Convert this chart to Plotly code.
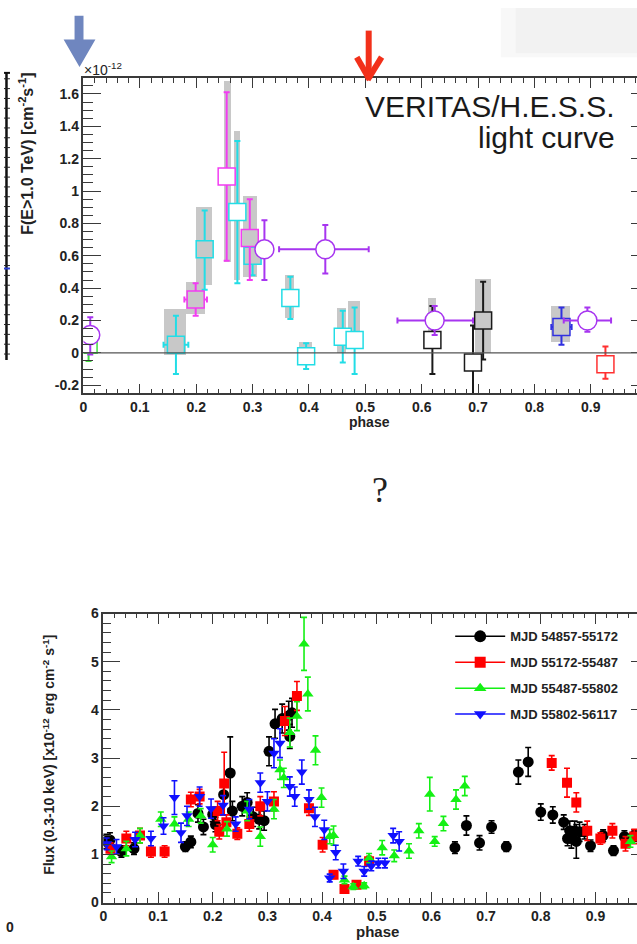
import plotly.graph_objects as go

W, H = 637, 944


def px(x):
    return x / W


def py(y):
    return 1 - y / H


# ---------------- top panel : VERITAS/H.E.S.S. light curve (x1e-12 cm^-2 s^-1)
green_phase = [0.009]
green_flux = [0.05]
green_up = [0.10]
green_dn = [0.10]

purple_phase = [0.012, 0.321, 0.429, 0.623, 0.894]
purple_flux = [0.11, 0.64, 0.64, 0.20, 0.20]
purple_up = [0.11, 0.18, 0.15, 0.09, 0.08]
purple_dn = [0.12, 0.19, 0.15, 0.09, 0.07]
purple_xl = [0.0, 0.0, 0.082, 0.066, 0.042]
purple_xr = [0.0, 0.0, 0.077, 0.068, 0.042]

cyan_phase = [0.164, 0.215, 0.273, 0.300, 0.367, 0.395, 0.460, 0.481]
cyan_flux = [0.05, 0.64, 0.87, 0.60, 0.34, -0.02, 0.10, 0.08]
cyan_up = [0.18, 0.24, 0.44, 0.12, 0.13, 0.08, 0.16, 0.20]
cyan_dn = [0.18, 0.25, 0.44, 0.12, 0.13, 0.08, 0.16, 0.21]
cyan_xe = [0.022, 0, 0, 0, 0, 0, 0, 0]

magenta_phase = [0.199, 0.254, 0.295]
magenta_flux = [0.33, 1.09, 0.71]
magenta_up = [0.10, 0.52, 0.24]
magenta_dn = [0.10, 0.52, 0.26]
magenta_xe = [0.02, 0, 0]

black_phase = [0.619, 0.691, 0.709]
black_flux = [0.08, -0.06, 0.20]
black_up = [0.21, 0.23, 0.24]
black_dn = [0.21, 0.30, 0.24]

blue_phase = [0.848]
blue_flux = [0.16]
blue_up = [0.12]
blue_dn = [0.11]
blue_xe = [0.018]

red_phase = [0.926]
red_flux = [-0.07]
red_up = [0.11]
red_dn = [0.09]

# systematic-error boxes (phase range, flux range)
sys_phase_lo = [0.143, 0.182, 0.200, 0.250, 0.268, 0.284, 0.358, 0.384, 0.451, 0.471, 0.612, 0.695, 0.831]
sys_phase_hi = [0.183, 0.217, 0.229, 0.262, 0.279, 0.309, 0.374, 0.407, 0.466, 0.492, 0.626, 0.723, 0.864]
sys_flux_lo = [-0.01, 0.24, 0.42, 0.56, 0.45, 0.47, 0.22, 0.00, 0.00, 0.03, 0.03, 0.00, 0.07]
sys_flux_hi = [0.27, 0.44, 0.90, 1.68, 1.37, 0.97, 0.48, 0.07, 0.28, 0.32, 0.34, 0.46, 0.29]

top_x_ticks = [0, 0.1, 0.2, 0.3, 0.4, 0.5, 0.6, 0.7, 0.8, 0.9]
top_x_labels = ["0", "0.1", "0.2", "0.3", "0.4", "0.5", "0.6", "0.7", "0.8", "0.9"]
top_y_ticks = [-0.2, 0, 0.2, 0.4, 0.6, 0.8, 1.0, 1.2, 1.4, 1.6]
top_y_labels = ["-0.2", "0", "0.2", "0.4", "0.6", "0.8", "1", "1.2", "1.4", "1.6"]

# ---------------- bottom panel : X-ray flux 0.3-10 keV (x1e-12 erg cm^-2 s^-1)
k_phase = [0.005, 0.012, 0.033, 0.056, 0.150, 0.160, 0.173, 0.183, 0.200, 0.205, 0.220, 0.232,
           0.236, 0.254, 0.263, 0.274, 0.285, 0.294, 0.303, 0.314, 0.327, 0.339, 0.345, 0.341,
           0.643, 0.664, 0.688, 0.710, 0.737, 0.759, 0.777, 0.800, 0.822, 0.842, 0.849, 0.853,
           0.856, 0.862, 0.865, 0.871, 0.880, 0.891, 0.914, 0.933, 0.953, 0.971]
k_flux = [1.27, 1.30, 1.06, 1.12, 1.16, 1.26, 1.85, 1.57, 1.83, 1.62, 2.24, 2.69,
          1.90, 2.00, 2.08, 1.78, 1.73, 1.70, 3.14, 3.71, 3.82, 3.88, 3.94, 3.45,
          1.14, 1.60, 1.24, 1.57, 1.16, 2.71, 2.92, 1.88, 1.82, 1.67, 1.33, 1.49,
          1.33, 1.49, 1.27, 1.47, 1.47, 1.18, 1.39, 1.08, 1.37, 1.39]
k_err = [0.15, 0.15, 0.12, 0.12, 0.10, 0.12, 0.18, 0.16, 0.15, 0.15, 0.20, 0.75,
         0.20, 0.20, 0.20, 0.20, 0.20, 0.20, 0.30, 0.30, 0.30, 0.30, 0.30, 0.25,
         0.12, 0.20, 0.15, 0.13, 0.10, 0.25, 0.30, 0.17, 0.17, 0.15, 0.15, 0.20,
         0.20, 0.20, 0.35, 0.20, 0.15, 0.12, 0.12, 0.10, 0.12, 0.12]

r_phase = [0.013, 0.042, 0.067, 0.087, 0.112, 0.160, 0.176, 0.209, 0.221, 0.212, 0.225, 0.245,
           0.267, 0.287, 0.312, 0.332, 0.354, 0.376, 0.401, 0.421, 0.441, 0.463, 0.486,
           0.820, 0.848, 0.865, 0.885, 0.909, 0.931, 0.955, 0.971]
r_flux = [1.12, 1.33, 1.39, 1.06, 1.06, 2.14, 2.20, 1.90, 2.47, 1.47, 1.67, 1.43,
          1.63, 2.00, 2.10, 3.77, 4.29, 1.96, 1.20, 0.58, 0.28, 0.37, 0.86,
          2.90, 2.49, 2.08, 1.49, 1.33, 1.49, 1.22, 1.37]
r_err = [0.12, 0.15, 0.15, 0.12, 0.12, 0.15, 0.15, 0.20, 0.65, 0.15, 0.15, 0.12,
         0.15, 0.20, 0.20, 0.30, 0.30, 0.15, 0.15, 0.08, 0.06, 0.06, 0.10,
         0.15, 0.30, 0.20, 0.20, 0.12, 0.15, 0.15, 0.15]

g_phase = [0.015, 0.042, 0.067, 0.105, 0.130, 0.156, 0.178, 0.200, 0.226, 0.263, 0.287, 0.312,
           0.323, 0.330, 0.341, 0.354, 0.367, 0.374, 0.388, 0.399, 0.414, 0.421, 0.441, 0.457,
           0.477, 0.486, 0.510, 0.532, 0.559, 0.577, 0.597, 0.606, 0.622, 0.645, 0.661, 0.964]
g_flux = [0.95, 1.12, 1.39, 1.73, 1.63, 1.73, 1.80, 1.20, 1.53, 1.90, 1.37, 1.94,
          2.76, 2.59, 3.53, 3.87, 5.37, 4.33, 3.16, 2.18, 1.37, 1.39, 0.47, 0.33,
          0.35, 0.92, 1.14, 0.97, 1.07, 1.49, 2.25, 1.27, 1.64, 2.14, 2.42, 1.27]
g_err = [0.12, 0.15, 0.15, 0.15, 0.15, 0.15, 0.15, 0.15, 0.15, 0.20, 0.20, 0.20,
         0.20, 0.20, 0.30, 0.30, 0.55, 0.35, 0.30, 0.20, 0.15, 0.20, 0.08, 0.06,
         0.06, 0.10, 0.15, 0.12, 0.15, 0.15, 0.35, 0.10, 0.15, 0.20, 0.20, 0.12]

b_phase = [0.006, 0.024, 0.058, 0.087, 0.110, 0.130, 0.142, 0.153, 0.176, 0.197, 0.219, 0.242,
           0.267, 0.287, 0.300, 0.312, 0.323, 0.341, 0.350, 0.363, 0.376, 0.387, 0.404, 0.414,
           0.425, 0.439, 0.466, 0.477, 0.490, 0.503, 0.515, 0.530, 0.541]
b_flux = [1.22, 1.16, 1.31, 1.33, 1.59, 2.18, 1.45, 1.80, 2.20, 1.95, 2.02, 1.63,
          1.94, 2.49, 2.10, 3.10, 3.31, 2.41, 2.20, 2.71, 2.14, 1.78, 1.51, 0.51,
          1.04, 0.65, 0.86, 0.65, 0.76, 0.82, 0.82, 1.39, 1.27]
b_err = [0.12, 0.15, 0.15, 0.15, 0.17, 0.35, 0.20, 0.20, 0.20, 0.20, 0.20, 0.15,
         0.20, 0.20, 0.20, 0.30, 0.30, 0.20, 0.20, 0.25, 0.20, 0.20, 0.20, 0.08,
         0.15, 0.15, 0.10, 0.10, 0.10, 0.10, 0.10, 0.15, 0.20]

bot_x_ticks = [0, 0.1, 0.2, 0.3, 0.4, 0.5, 0.6, 0.7, 0.8, 0.9]
bot_x_labels = ["0", "0.1", "0.2", "0.3", "0.4", "0.5", "0.6", "0.7", "0.8", "0.9"]
bot_y_ticks = [0, 1, 2, 3, 4, 5, 6]
bot_y_labels = ["0", "1", "2", "3", "4", "5", "6"]
legend_labels = ["MJD 54857-55172", "MJD 55172-55487", "MJD 55487-55802", "MJD 55802-56117"]

FONT = "Liberation Sans"
GRAY = "#c8c8c8"

fig = go.Figure()

# systematic boxes as bars
fig.add_trace(go.Bar(
    x=[(a + b) / 2 for a, b in zip(sys_phase_lo, sys_phase_hi)],
    width=[b - a for a, b in zip(sys_phase_lo, sys_phase_hi)],
    base=sys_flux_lo,
    y=[h - l for l, h in zip(sys_flux_lo, sys_flux_hi)],
    marker=dict(color=GRAY, line=dict(width=0)),
    xaxis="x", yaxis="y", showlegend=False, hoverinfo="skip"))


def top_series(phase, flux, up, dn, color, symbol, fills, xl=None, xr=None, size=17):
    ex = None
    if xl is not None:
        ex = dict(type="data", symmetric=False, array=xr, arrayminus=xl,
                  color=color, thickness=2, width=3)
    fig.add_trace(go.Scatter(
        x=phase, y=flux, mode="markers", xaxis="x", yaxis="y", showlegend=False,
        marker=dict(symbol=symbol, size=size, color=fills, line=dict(color=color, width=1.5)),
        error_y=dict(type="data", symmetric=False, array=up, arrayminus=dn,
                     color=color, thickness=2, width=3),
        error_x=ex))


W_ = "white"
top_series(green_phase, green_flux, green_up, green_dn, "#3fe03f", "square", [W_])
top_series(cyan_phase, cyan_flux, cyan_up, cyan_dn, "#22dde6", "square",
           [GRAY, GRAY, W_, GRAY, W_, W_, W_, W_], cyan_xe, cyan_xe)
top_series(magenta_phase, magenta_flux, magenta_up, magenta_dn, "#f23cf2", "square",
           [GRAY, W_, GRAY], magenta_xe, magenta_xe)
top_series(black_phase, black_flux, black_up, black_dn, "#1a1a1a", "square", [W_, W_, GRAY])
top_series(blue_phase, blue_flux, blue_up, blue_dn, "#3030e0", "square", [GRAY], blue_xe, blue_xe)
top_series(red_phase, red_flux, red_up, red_dn, "#ff3030", "square", [W_])
top_series(purple_phase, purple_flux, purple_up, purple_dn, "#a735f0", "circle",
           [W_] * 5, purple_xl, purple_xr, size=19)

# invisible helper traces for right-hand tick axes
fig.add_trace(go.Scatter(x=[None], y=[None], xaxis="x", yaxis="y3", showlegend=False))
fig.add_trace(go.Scatter(x=[None], y=[None], xaxis="x2", yaxis="y4", showlegend=False))

# bottom panel
bot = [
    (k_phase, k_flux, k_err, "#000000", "circle", 11),
    (r_phase, r_flux, r_err, "#ff0000", "square", 10),
    (g_phase, g_flux, g_err, "#14f014", "triangle-up", 10),
    (b_phase, b_flux, b_err, "#1010ff", "triangle-down", 10),
]
for (ph, fl, er, col, sym, sz) in bot:
    fig.add_trace(go.Scatter(
        x=ph, y=fl, mode="markers", xaxis="x2", yaxis="y2", showlegend=False,
        marker=dict(symbol=sym, size=sz, color=col, line=dict(width=0)),
        error_y=dict(type="data", array=er, color=col, thickness=1.6, width=3)))
for lab, (ph, fl, er, col, sym, sz) in zip(legend_labels, bot):
    fig.add_trace(go.Scatter(
        x=[None], y=[None], mode="lines+markers", xaxis="x2", yaxis="y2",
        name=lab, legendgroup=lab, showlegend=True,
        line=dict(color=col, width=1.5),
        marker=dict(symbol=sym, size=sz + 1, color=col)))

AXC = "#3a3a3a"
tickfont_top = dict(family=FONT, size=14, color="#222", weight="bold")
tickfont_bot = dict(family=FONT, size=14, color="#222", weight="bold")

fig.update_layout(
    width=W, height=H, autosize=False,
    margin=dict(l=0, r=0, t=0, b=0),
    paper_bgcolor="white", plot_bgcolor="rgba(0,0,0,0)",
    barmode="overlay", bargap=0,
    xaxis=dict(domain=[px(80), 1], range=[0, 0.982], anchor="y",
               tickvals=top_x_ticks, ticktext=top_x_labels, tickfont=tickfont_top,
               ticks="inside", ticklen=10, tickwidth=1.3, tickcolor=AXC,
               minor=dict(ticks="inside", dtick=0.02, ticklen=5, tickwidth=1.2, tickcolor=AXC),
               showline=True, linecolor=AXC, linewidth=1.5, mirror="ticks",
               showgrid=False, zeroline=False),
    yaxis=dict(domain=[py(392), py(71)], range=[-0.25, 1.7], anchor="x",
               tickvals=top_y_ticks, ticktext=top_y_labels, tickfont=tickfont_top,
               ticks="inside", ticklen=18, tickwidth=1.3, tickcolor=AXC,
               minor=dict(ticks="inside", dtick=0.05, tick0=0, ticklen=10, tickwidth=1.2, tickcolor=AXC),
               showline=True, linecolor=AXC, linewidth=1.5, mirror=False,
               showgrid=False, zeroline=False),
    yaxis3=dict(overlaying="y", side="right", anchor="free", position=1, range=[-0.25, 1.7],
                tickvals=top_y_ticks, showticklabels=False, ticks="inside", ticklen=6,
                tickwidth=1.3, tickcolor=AXC, showline=False, showgrid=False, zeroline=False),
    xaxis2=dict(domain=[px(100), 1], range=[0, 0.976], anchor="y2",
                tickvals=bot_x_ticks, ticktext=bot_x_labels, tickfont=tickfont_bot,
                ticks="inside", ticklen=11, tickwidth=1.3, tickcolor=AXC,
                minor=dict(ticks="inside", dtick=0.02, ticklen=5, tickwidth=1.2, tickcolor=AXC),
                showline=True, linecolor=AXC, linewidth=1.5, mirror="ticks",
                showgrid=False, zeroline=False),
    yaxis2=dict(domain=[py(910), py(616)], range=[0, 6], anchor="x2",
                tickvals=bot_y_ticks, ticktext=bot_y_labels, tickfont=tickfont_bot,
                ticks="inside", ticklen=17, tickwidth=1.3, tickcolor=AXC,
                minor=dict(ticks="inside", dtick=0.2, ticklen=8, tickwidth=1.2, tickcolor=AXC),
                showline=True, linecolor=AXC, linewidth=1.5, mirror=False,
                showgrid=False, zeroline=False),
    yaxis4=dict(overlaying="y2", side="right", anchor="free", position=1, range=[0, 6],
                tickvals=bot_y_ticks, showticklabels=False, ticks="inside", ticklen=6,
                tickwidth=1.3, tickcolor=AXC, showline=False, showgrid=False, zeroline=False),
    legend=dict(x=px(449), y=py(624), xanchor="left", yanchor="top",
                bgcolor="rgba(0,0,0,0)", borderwidth=0, itemwidth=50, tracegroupgap=6,
                font=dict(family=FONT, size=13, color="#222", weight="bold")),
)

shapes = []
# faint background shading (slide background) at the right
shapes.append(dict(type="rect", xref="paper", yref="paper", x0=px(500), x1=1, y0=py(50), y1=1,
                   fillcolor="#f8f8f8", line=dict(width=0), layer="below"))
shapes.append(dict(type="rect", xref="paper", yref="paper", x0=px(515), x1=1, y0=py(46), y1=1,
                   fillcolor="#f2f2f2", line=dict(width=0), layer="below"))
# zero line in the top panel
shapes.append(dict(type="line", xref="x domain", yref="y", x0=0, x1=1, y0=0, y1=0,
                   line=dict(color="#555", width=1.2)))
# blue arrow
pts = [(71, 8), (80, 8), (80, 32), (92, 32), (76, 60), (60, 32), (71, 32)]
path = "M " + " L ".join(f"{px(a):.5f},{py(b):.5f}" for a, b in pts) + " Z"
shapes.append(dict(type="path", xref="paper", yref="paper", path=path,
                   fillcolor="#6f86bf", line=dict(width=0)))
# red arrow
for (x0, y0, x1, y1) in [(367, 23, 367, 70), (355, 50, 368, 73), (380, 50, 366, 73)]:
    shapes.append(dict(type="line", xref="paper", yref="paper",
                       x0=px(x0), y0=py(y0), x1=px(x1), y1=py(y1),
                       line=dict(color="#f2301a", width=6)))
# partial neighbouring frame at the left edge
shapes.append(dict(type="line", xref="paper", yref="paper", x0=px(2.5), x1=px(2.5),
                   y0=py(66), y1=py(358), line=dict(color="#111", width=2.5)))
shapes.append(dict(type="line", xref="paper", yref="paper", x0=0, x1=px(6),
                   y0=py(66), y1=py(66), line=dict(color="#111", width=2)))
tick_path = " ".join(f"M 0,{py(y):.5f} L {px(6):.5f},{py(y):.5f}" for y in range(72, 356, 10))
shapes.append(dict(type="path", xref="paper", yref="paper", path=tick_path,
                   line=dict(color="#222", width=1)))
shapes.append(dict(type="line", xref="paper", yref="paper", x0=0, x1=px(6),
                   y0=py(265), y1=py(265), line=dict(color="#2a3fd0", width=2)))
fig.update_layout(shapes=shapes)

ann = [
    dict(text="F(E>1.0 TeV) [cm<sup>-2</sup>s<sup>-1</sup>]", x=px(22), y=py(64),
         xanchor="center", yanchor="top", textangle=-90,
         font=dict(family=FONT, size=16, color="#222", weight="bold")),
    dict(text="×10<sup>-12</sup>", x=px(78), y=py(62), xanchor="left", yanchor="middle",
         font=dict(family=FONT, size=14, color="#222")),
    dict(text="phase", x=px(368), y=py(421), xanchor="center", yanchor="middle",
         font=dict(family=FONT, size=14, color="#222", weight="bold")),
    dict(text="VERITAS/H.E.S.S.", x=px(617), y=py(100), xanchor="right", yanchor="middle",
         font=dict(family=FONT, size=30, color="#1a1a1a")),
    dict(text="light curve", x=px(617), y=py(132), xanchor="right", yanchor="middle",
         font=dict(family=FONT, size=30, color="#1a1a1a")),
    dict(text="?", x=px(378), y=py(490), xanchor="center", yanchor="middle",
         font=dict(family="Liberation Serif", size=36, color="#222")),
    dict(text="Flux (0.3-10 keV) [x10<sup>-12</sup> erg cm<sup>-2</sup> s<sup>-1</sup>]",
         x=px(45), y=py(760), xanchor="center", yanchor="middle", textangle=-90,
         font=dict(family=FONT, size=14, color="#222", weight="bold")),
    dict(text="phase", x=px(376), y=py(939), xanchor="center", yanchor="middle",
         font=dict(family=FONT, size=15, color="#222", weight="bold")),
    dict(text="0", x=px(0), y=py(935), xanchor="left", yanchor="middle",
         font=dict(family=FONT, size=14, color="#222", weight="bold")),
]
for a in ann:
    a.update(xref="paper", yref="paper", showarrow=False)
fig.update_layout(annotations=ann)

fig.write_html("out.html")
